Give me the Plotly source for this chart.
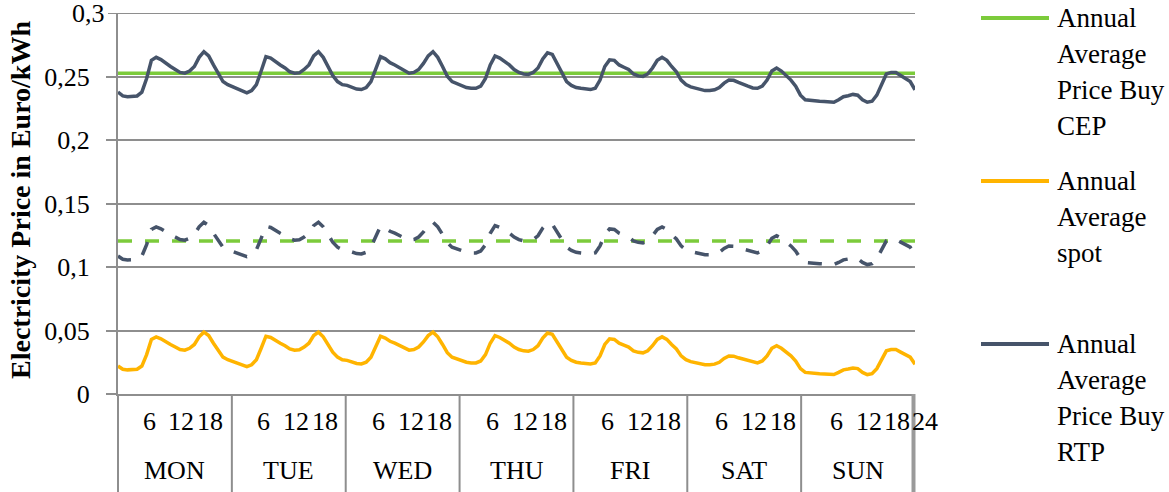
import textwrap
import plotly.graph_objects as go

# ---------------- data ----------------
days = ["MON", "TUE", "WED", "THU", "FRI", "SAT", "SUN"]
hour_labels = ["6", "12", "18"]
end_label = "24"
y_ticks = [0, 0.05, 0.1, 0.15, 0.2, 0.25, 0.3]

cep_buy_avg = 0.2525   # Annual Average Price Buy CEP (green solid)
cep_sell_avg = 0.1205  # green dashed

spot = [
    # MON
    0.022, 0.0195, 0.019, 0.019, 0.0195, 0.022, 0.031, 0.043, 0.045, 0.0435, 0.041, 0.039,
    0.037, 0.035, 0.0345, 0.036, 0.039, 0.045, 0.0487, 0.046, 0.040, 0.034, 0.029, 0.027,
    # TUE
    0.0255, 0.024, 0.0225, 0.0215, 0.023, 0.027, 0.036, 0.0455, 0.0445, 0.042, 0.040, 0.038,
    0.0355, 0.0345, 0.0348, 0.037, 0.040, 0.046, 0.0487, 0.045, 0.039, 0.033, 0.029, 0.027,
    # WED
    0.0265, 0.025, 0.024, 0.0237, 0.025, 0.029, 0.038, 0.0455, 0.044, 0.0415, 0.040, 0.038,
    0.036, 0.0345, 0.035, 0.037, 0.041, 0.046, 0.0487, 0.045, 0.039, 0.0325, 0.029, 0.0275,
    # THU
    0.026, 0.025, 0.0245, 0.0245, 0.026, 0.031, 0.040, 0.046, 0.0445, 0.0425, 0.040, 0.037,
    0.035, 0.034, 0.0337, 0.035, 0.038, 0.044, 0.048, 0.047, 0.041, 0.035, 0.029, 0.0265,
    # FRI
    0.025, 0.0245, 0.024, 0.0237, 0.0245, 0.030, 0.039, 0.0434, 0.043, 0.040, 0.0385, 0.037,
    0.034, 0.0328, 0.0324, 0.034, 0.038, 0.043, 0.045, 0.043, 0.039, 0.0355, 0.030, 0.027,
    # SAT
    0.0255, 0.0245, 0.0235, 0.023, 0.023, 0.0235, 0.025, 0.028, 0.030, 0.0298, 0.0285, 0.0275,
    0.026, 0.0248, 0.0245, 0.026, 0.030, 0.036, 0.038, 0.036, 0.033, 0.030, 0.026, 0.020,
    # SUN
    0.017, 0.0165, 0.016, 0.016, 0.0158, 0.0156, 0.0153, 0.017, 0.019, 0.0197, 0.0205, 0.020,
    0.017, 0.0153, 0.016, 0.020, 0.027, 0.034, 0.035, 0.035, 0.033, 0.031, 0.029, 0.0235,
]

rtp_buy = [
    # MON
    0.2377, 0.2347, 0.2341, 0.2341, 0.2347, 0.2377, 0.2484, 0.2627, 0.2651, 0.2633, 0.2603, 0.2579,
    0.2555, 0.2532, 0.2526, 0.2543, 0.2579, 0.2651, 0.2695, 0.2662, 0.2591, 0.2520, 0.2460, 0.2436,
    # TUE
    0.2418, 0.2401, 0.2383, 0.2371, 0.2389, 0.2436, 0.2543, 0.2656, 0.2645, 0.2615, 0.2591, 0.2567,
    0.2537, 0.2526, 0.2529, 0.2555, 0.2591, 0.2662, 0.2695, 0.2651, 0.2579, 0.2508, 0.2460, 0.2436,
    # WED
    0.2430, 0.2413, 0.2401, 0.2397, 0.2413, 0.2460, 0.2567, 0.2656, 0.2639, 0.2609, 0.2591, 0.2567,
    0.2543, 0.2526, 0.2532, 0.2555, 0.2603, 0.2662, 0.2695, 0.2651, 0.2579, 0.2502, 0.2460, 0.2442,
    # THU
    0.2424, 0.2413, 0.2407, 0.2407, 0.2424, 0.2484, 0.2591, 0.2662, 0.2645, 0.2621, 0.2591, 0.2555,
    0.2532, 0.2520, 0.2516, 0.2532, 0.2567, 0.2639, 0.2686, 0.2674, 0.2603, 0.2532, 0.2460, 0.2430,
    # FRI
    0.2413, 0.2407, 0.2401, 0.2397, 0.2407, 0.2472, 0.2579, 0.2631, 0.2627, 0.2591, 0.2573, 0.2555,
    0.2520, 0.2505, 0.2501, 0.2520, 0.2567, 0.2627, 0.2651, 0.2627, 0.2579, 0.2537, 0.2472, 0.2436,
    # SAT
    0.2418, 0.2407, 0.2395, 0.2389, 0.2389, 0.2395, 0.2413, 0.2448, 0.2472, 0.2470, 0.2454, 0.2442,
    0.2424, 0.2410, 0.2407, 0.2424, 0.2472, 0.2543, 0.2567, 0.2543, 0.2508, 0.2472, 0.2424, 0.2353,
    # SUN
    0.2317, 0.2311, 0.2305, 0.2305, 0.2303, 0.2301, 0.2297, 0.2317, 0.2341, 0.2349, 0.2359, 0.2353,
    0.2317, 0.2297, 0.2305, 0.2353, 0.2436, 0.2520, 0.2532, 0.2532, 0.2508, 0.2484, 0.2460, 0.2395,
]

rtp_sell = [
    # MON
    0.1086, 0.1061, 0.1056, 0.1056, 0.1061, 0.1086, 0.1176, 0.1296, 0.1316, 0.1301, 0.1276, 0.1256,
    0.1236, 0.1216, 0.1211, 0.1226, 0.1256, 0.1316, 0.1353, 0.1326, 0.1266, 0.1206, 0.1156, 0.1136,
    # TUE
    0.1121, 0.1106, 0.1091, 0.1081, 0.1096, 0.1136, 0.1226, 0.1321, 0.1311, 0.1286, 0.1266, 0.1246,
    0.1221, 0.1211, 0.1214, 0.1236, 0.1266, 0.1326, 0.1353, 0.1316, 0.1256, 0.1196, 0.1156, 0.1136,
    # WED
    0.1131, 0.1116, 0.1106, 0.1103, 0.1116, 0.1156, 0.1246, 0.1321, 0.1306, 0.1281, 0.1266, 0.1246,
    0.1226, 0.1211, 0.1216, 0.1236, 0.1276, 0.1326, 0.1353, 0.1316, 0.1256, 0.1191, 0.1156, 0.1141,
    # THU
    0.1126, 0.1116, 0.1111, 0.1111, 0.1126, 0.1176, 0.1266, 0.1326, 0.1311, 0.1291, 0.1266, 0.1236,
    0.1216, 0.1206, 0.1203, 0.1216, 0.1246, 0.1306, 0.1346, 0.1336, 0.1276, 0.1216, 0.1156, 0.1131,
    # FRI
    0.1116, 0.1111, 0.1106, 0.1103, 0.1111, 0.1166, 0.1256, 0.1300, 0.1296, 0.1266, 0.1251, 0.1236,
    0.1206, 0.1194, 0.1190, 0.1206, 0.1246, 0.1296, 0.1316, 0.1296, 0.1256, 0.1221, 0.1166, 0.1136,
    # SAT
    0.1121, 0.1111, 0.1101, 0.1096, 0.1096, 0.1101, 0.1116, 0.1146, 0.1166, 0.1164, 0.1151, 0.1141,
    0.1126, 0.1114, 0.1111, 0.1126, 0.1166, 0.1226, 0.1246, 0.1226, 0.1196, 0.1166, 0.1126, 0.1066,
    # SUN
    0.1036, 0.1031, 0.1026, 0.1026, 0.1024, 0.1022, 0.1019, 0.1036, 0.1056, 0.1063, 0.1071, 0.1066,
    0.1036, 0.1019, 0.1026, 0.1066, 0.1136, 0.1206, 0.1216, 0.1216, 0.1196, 0.1176, 0.1156, 0.1101,
]

legend_names = [
    "Annual Average Price Buy CEP",
    "Annual Average spot",
    "Annual Average Price Buy RTP",
]

# ---------------- style ----------------
GREEN = "#7CCB3B"
GOLD = "#FFB400"
SLATE = "#46546A"
GRID = "#8E8E8E"
FONT = "Liberation Serif, Times New Roman, serif"
FS = 26
LW = 3.5
DASH = "14px,13px"

W, H = 1169, 492
ML, MR, MT, MB = 118, 254, 13, 98
PW = W - ML - MR
PH = H - MT - MB


def px(xp):
    return (xp - ML) / PW


def py(yp):
    return (H - MB - yp) / PH


n = len(spot)
hours = list(range(n))

fig = go.Figure()
fig.add_trace(go.Scatter(x=hours, y=[cep_buy_avg] * n, mode="lines", name=legend_names[0],
                         line=dict(color=GREEN, width=LW)))
fig.add_trace(go.Scatter(x=hours, y=[cep_sell_avg] * n, mode="lines", showlegend=False,
                         line=dict(color=GREEN, width=LW, dash=DASH)))
fig.add_trace(go.Scatter(x=hours, y=rtp_sell, mode="lines", showlegend=False,
                         line=dict(color=SLATE, width=LW, dash=DASH)))
fig.add_trace(go.Scatter(x=hours, y=spot, mode="lines", name=legend_names[1],
                         line=dict(color=GOLD, width=LW)))
fig.add_trace(go.Scatter(x=hours, y=rtp_buy, mode="lines", name=legend_names[2],
                         line=dict(color=SLATE, width=LW)))

shapes = []
annotations = []

# top grid line (0.3) drawn explicitly as a horizontal rule across the plot
shapes.append(dict(type="line", xref="paper", yref="y", x0=px(ML - 10), x1=1, y0=y_ticks[-1],
                   y1=y_ticks[-1], line=dict(color=GRID, width=2), layer="below"))

# category table below the plot: day separators
bottom = py(H + 5)
for k in range(1, len(days)):
    shapes.append(dict(type="line", xref="paper", yref="paper", x0=k / len(days), x1=k / len(days),
                       y0=0, y1=bottom, line=dict(color=GRID, width=2)))
# thick right border of the table
shapes.append(dict(type="line", xref="paper", yref="paper", x0=1.0 - 1.5 / PW, x1=1.0 - 1.5 / PW,
                   y0=0, y1=bottom, line=dict(color="#9A9A9A", width=4)))
# left axis line continues down
shapes.append(dict(type="line", xref="paper", yref="paper", x0=0, x1=0, y0=0, y1=bottom,
                   line=dict(color=GRID, width=2)))

# hour labels and day labels
for d, day in enumerate(days):
    for lab in hour_labels:
        h = int(lab)
        off = 0.5 if len(lab) == 1 else 1.3
        annotations.append(dict(x=d * 24 + h + off, y=py(421), xref="x", yref="paper", text=lab,
                                showarrow=False, xanchor="center", yanchor="middle",
                                font=dict(family=FONT, size=FS, color="black")))
    annotations.append(dict(x=(d + 0.5) / len(days), y=py(470), xref="paper", yref="paper", text=day,
                            showarrow=False, xanchor="center", yanchor="middle",
                            font=dict(family=FONT, size=FS, color="black")))
annotations.append(dict(x=px(925), y=py(421), xref="paper", yref="paper", text=end_label,
                        showarrow=False, xanchor="center", yanchor="middle",
                        font=dict(family=FONT, size=FS, color="black")))

# top tick label (0,3)
annotations.append(dict(x=px(ML - 11), y=y_ticks[-1], xref="paper", yref="y",
                        text=str(y_ticks[-1]).replace(".", ","), showarrow=False,
                        xanchor="right", yanchor="middle",
                        font=dict(family=FONT, size=FS, color="black")))

# y axis title
annotations.append(dict(x=px(20), y=py(200), xref="paper", yref="paper",
                        text="<b>Electricity Price in Euro/kWh</b>", textangle=-90,
                        showarrow=False, xanchor="center", yanchor="middle",
                        font=dict(family=FONT, size=28, color="black")))

# manual legend
leg_colors = [GREEN, GOLD, SLATE]
leg_y = [18, 181, 344]
for name, col, y0 in zip(legend_names, leg_colors, leg_y):
    shapes.append(dict(type="line", xref="paper", yref="paper", x0=px(981), x1=px(1049),
                       y0=py(y0), y1=py(y0), line=dict(color=col, width=4)))
    for j, line in enumerate(textwrap.wrap(name, width=9)):
        annotations.append(dict(x=px(1055), y=py(y0 + 36 * j), xref="paper", yref="paper",
                                text=line, showarrow=False, xanchor="left", yanchor="middle",
                                font=dict(family=FONT, size=27, color="black")))

fig.update_layout(
    width=W, height=H,
    margin=dict(l=ML, r=MR, t=MT, b=MB, pad=0),
    paper_bgcolor="white", plot_bgcolor="white",
    separators=", ",
    showlegend=False,
    font=dict(family=FONT, size=FS, color="black"),
    shapes=shapes,
    annotations=annotations,
    xaxis=dict(range=[0, n - 1], showgrid=False, zeroline=False, showticklabels=False,
               ticks="", showline=True, linecolor=GRID, linewidth=2),
    yaxis=dict(range=[0, 0.3], tickmode="array", tickvals=y_ticks[:-1],
               showgrid=True, gridcolor=GRID, gridwidth=2,
               zeroline=False, showline=True, linecolor=GRID, linewidth=2,
               ticks="outside", ticklen=10, tickwidth=2, tickcolor=GRID,
               ticklabelstandoff=11,
               tickfont=dict(family=FONT, size=FS, color="black")),
)

fig.write_html("out.html", post_script="document.body.style.margin='0';",
               config={"displayModeBar": False})
